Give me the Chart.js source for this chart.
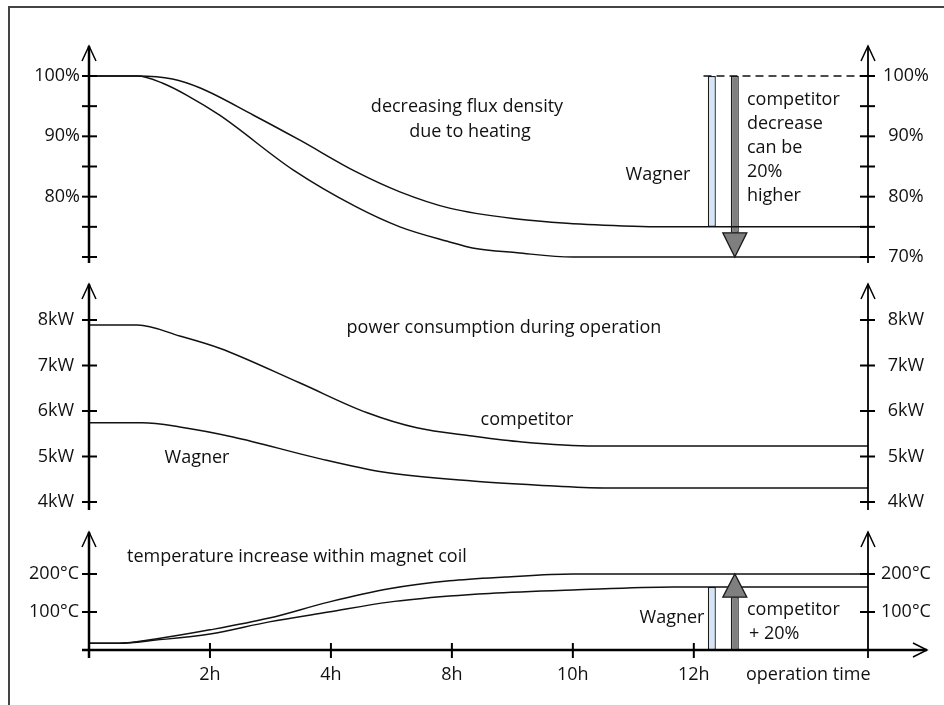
<!DOCTYPE html>
<html><head><meta charset="utf-8">
<script src="https://cdn.jsdelivr.net/npm/chart.js@4.4.1/dist/chart.umd.min.js"></script>
<style>html,body{margin:0;padding:0;background:#fff;}#wrap{width:944px;height:705px;position:relative;}</style>
</head><body><div id="wrap"><canvas id="c"></canvas></div>
<script>
// ---- time axis (axis units; labels as printed) ----
const timeTickPos = [1, 2, 3, 4, 5];
const timeTickLabels = ['2h', '4h', '8h', '10h', '12h'];
const timeAxisEnd = 6.44;

// ---- flux density (%) ----
const fluxTicks = [100, 95, 90, 85, 80, 75, 70];
const fluxLeftLabels = [100, 90, 80];
const fluxRightLabels = [100, 90, 80, 70];
const fluxWagnerT = [0, 0.40, 0.69, 0.92, 1.36, 1.74, 2.21, 2.57, 2.98, 3.54, 3.95, 4.50, 4.72, 6.44];
const fluxWagner  = [100, 100, 99.5, 98.0, 93.5, 89.4, 84.1, 80.8, 78.1, 76.3, 75.6, 75.1, 75.0, 75.0];
const fluxCompT   = [0, 0.40, 0.61, 0.81, 1.08, 1.69, 2.21, 2.57, 2.98, 3.17, 3.54, 4.0, 6.44];
const fluxComp    = [100, 100, 98.8, 96.8, 93.5, 84.4, 78.3, 75.0, 72.5, 71.5, 70.7, 70.0, 70.0];
const fluxRefT = [5.08, 6.44];
const fluxRef  = [100, 100];
const fluxWagnerBar = {t: 5.149, range: [75, 100]};
const fluxCompArrow = {t: 5.339, shaft: [74, 100], tip: 70};

// ---- power consumption (kW) ----
const powerTicks = [8, 7, 6, 5, 4];
const powerCompT  = [0, 0.40, 0.75, 1.08, 1.74, 2.30, 2.71, 3.17, 3.58, 4.18, 6.44];
const powerComp   = [7.89, 7.89, 7.65, 7.38, 6.62, 5.96, 5.63, 5.45, 5.32, 5.23, 5.23];
const powerWagnerT = [0, 0.44, 0.75, 1.19, 1.88, 2.43, 3.17, 3.72, 4.26, 6.44];
const powerWagner  = [5.74, 5.74, 5.65, 5.43, 4.97, 4.66, 4.46, 4.37, 4.31, 4.31];

// ---- coil temperature (°C) ----
const tempTicks = [200, 100];
const tempCompT  = [0, 0.25, 0.55, 1.0, 1.49, 1.98, 2.48, 2.98, 3.44, 4.0, 6.44];
const tempComp   = [18, 18, 29, 53, 84, 126, 161, 182, 192, 200, 200];
const tempWagnerT = [0, 0.25, 0.55, 1.0, 1.49, 1.98, 2.48, 2.98, 3.31, 4.0, 4.83, 6.44];
const tempWagner  = [18, 18, 26, 42, 74, 100, 126, 142, 149, 158, 166, 166];
const tempWagnerBar = {t: 5.149, range: [0, 166]};
const tempCompArrow = {t: 5.339, shaft: [0, 139], tip: 200};

// ---- layout (pixels) ----
const W = 944, H = 705;
const FONT = '18px "Open Sans"';
const TXT = '#111';
function fit(v0, p0, v1, p1) {
  const k = (p1 - p0) / (v0 - v1);
  const max = v0 + p0 / k;
  return {min: max - H / k, max};
}
const fluxFit = fit(100, 76, 70, 257);
const powerFit = fit(8, 320, 4, 502);
const tempFit = fit(200, 574, 0, 650);

const pts = (xs, ys) => xs.map((x, i) => ({x, y: ys[i]}));
const lineDs = (xs, ys, axis, extra) => Object.assign({
  type: 'line', data: pts(xs, ys), yAxisID: axis, borderColor: '#111', borderWidth: 1.5,
  pointRadius: 0, fill: false, cubicInterpolationMode: 'monotone'
}, extra || {});
const barDs = (bar, axis, fillColor) => ({
  type: 'bar', data: [{x: bar.t, y: bar.range || bar.shaft}], yAxisID: axis,
  backgroundColor: fillColor, borderColor: '#1a1a1a', borderWidth: 1.3, borderSkipped: false,
  grouped: false, maxBarThickness: 8
});

const panels = [
  {axis: 'y1', top: 46, bottom: 263, ticks: fluxTicks, left: fluxLeftLabels, right: fluxRightLabels, unit: '%', lx: 80},
  {axis: 'y2', top: 284, bottom: 510, ticks: powerTicks, left: powerTicks, right: powerTicks, unit: 'kW', lx: 74},
  {axis: 'y3', top: 532, bottom: 658, ticks: tempTicks, left: tempTicks, right: tempTicks, unit: '°C', lx: 79}
];
const notes = [
  ['decreasing flux density', 467, 107, 'center'],
  ['due to heating', 470, 132, 'center'],
  ['Wagner', 658, 175, 'center'],
  ['competitor', 747, 100, 'left'],
  ['decrease', 747, 124, 'left'],
  ['can be', 747, 148, 'left'],
  ['20%', 747, 172, 'left'],
  ['higher', 747, 196, 'left'],
  ['power consumption during operation', 504, 328, 'center'],
  ['competitor', 527, 420, 'center'],
  ['Wagner', 197, 458, 'center'],
  ['temperature increase within magnet coil', 127, 557, 'left'],
  ['Wagner', 672, 618, 'center'],
  ['competitor', 747, 610, 'left'],
  ['+ 20%', 749, 634, 'left'],
  ['operation time', 746, 675, 'left']
];

const drawPlugin = {
  id: 'drawAxes',
  afterDatasetsDraw(chart) {
    const ctx = chart.ctx;
    const xs = chart.scales.x;
    const X = v => xs.getPixelForValue(v);
    const xl = X(0), xr = X(timeAxisEnd);
    ctx.save();
    // frame
    ctx.strokeStyle = '#444'; ctx.lineWidth = 2;
    ctx.beginPath(); ctx.moveTo(9, H); ctx.lineTo(9, 7); ctx.lineTo(W, 7); ctx.stroke();

    // arrow heads of competitor
    const heads = [[fluxCompArrow, 'y1'], [tempCompArrow, 'y3']];
    heads.forEach(([a, ax]) => {
      const s = chart.scales[ax];
      const cx = X(a.t);
      const tipY = s.getPixelForValue(a.tip);
      const baseY = s.getPixelForValue(a.tip > a.shaft[0] ? a.shaft[1] : a.shaft[0]);
      ctx.beginPath();
      ctx.moveTo(cx - 12, baseY); ctx.lineTo(cx + 12, baseY); ctx.lineTo(cx, tipY); ctx.closePath();
      ctx.fillStyle = '#7f7f7f'; ctx.fill();
      ctx.strokeStyle = '#1a1a1a'; ctx.lineWidth = 1.3; ctx.stroke();
    });

    ctx.strokeStyle = '#000';
    ctx.fillStyle = TXT;
    ctx.font = FONT;
    ctx.textBaseline = 'middle';
    const chevronUp = (x, y) => {
      ctx.lineWidth = 1.5;
      ctx.beginPath(); ctx.moveTo(x - 7, y + 15); ctx.lineTo(x, y); ctx.lineTo(x + 7, y + 15); ctx.stroke();
    };
    panels.forEach(p => {
      const s = chart.scales[p.axis];
      ctx.lineWidth = 2.5;
      ctx.beginPath(); ctx.moveTo(xl, p.top); ctx.lineTo(xl, p.bottom); ctx.stroke();
      chevronUp(xl, p.top);
      ctx.lineWidth = 1.8;
      ctx.beginPath(); ctx.moveTo(xr, p.top); ctx.lineTo(xr, p.bottom); ctx.stroke();
      chevronUp(xr, p.top);
      p.ticks.forEach(v => {
        const y = s.getPixelForValue(v);
        ctx.lineWidth = 2;
        ctx.beginPath(); ctx.moveTo(xl - 7, y); ctx.lineTo(xl + 8, y); ctx.stroke();
        ctx.beginPath(); ctx.moveTo(xr - 8, y); ctx.lineTo(xr + 7, y); ctx.stroke();
      });
      ctx.textAlign = 'right';
      p.left.forEach(v => ctx.fillText(v + p.unit, p.lx, s.getPixelForValue(v)));
      ctx.textAlign = 'center';
      p.right.forEach(v => ctx.fillText(v + p.unit, 906, s.getPixelForValue(v)));
    });

    // time axis
    const ty = chart.scales.y3.getPixelForValue(0);
    ctx.lineWidth = 2.5;
    ctx.beginPath(); ctx.moveTo(xl - 7, ty); ctx.lineTo(927, ty); ctx.stroke();
    ctx.lineWidth = 1.5;
    ctx.beginPath(); ctx.moveTo(913, ty - 7); ctx.lineTo(927, ty); ctx.lineTo(913, ty + 7); ctx.stroke();
    ctx.lineWidth = 2;
    timeTickPos.forEach((v, i) => {
      const x = X(v);
      ctx.beginPath(); ctx.moveTo(x, ty - 7); ctx.lineTo(x, ty + 8); ctx.stroke();
      ctx.textAlign = 'center';
      ctx.fillText(timeTickLabels[i], x, 675);
    });

    notes.forEach(([t, x, y, a]) => { ctx.textAlign = a; ctx.fillText(t, x, y); });
    ctx.restore();
  }
};

const yScale = f => ({type: 'linear', display: false, min: f.min, max: f.max, beginAtZero: false, bounds: 'data'});

new Chart(document.getElementById('c'), {
  type: 'line',
  data: {
    datasets: [
      lineDs(fluxWagnerT, fluxWagner, 'y1'),
      lineDs(fluxCompT, fluxComp, 'y1'),
      lineDs(fluxRefT, fluxRef, 'y1', {borderDash: [8, 5], cubicInterpolationMode: 'default', tension: 0}),
      lineDs(powerCompT, powerComp, 'y2'),
      lineDs(powerWagnerT, powerWagner, 'y2'),
      lineDs(tempCompT, tempComp, 'y3'),
      lineDs(tempWagnerT, tempWagner, 'y3'),
      barDs(fluxWagnerBar, 'y1', '#d6e4f8'),
      barDs(fluxCompArrow, 'y1', '#7f7f7f'),
      barDs(tempWagnerBar, 'y3', '#d6e4f8'),
      barDs(tempCompArrow, 'y3', '#7f7f7f')
    ]
  },
  options: {
    responsive: true, maintainAspectRatio: false, animation: false,
    layout: {padding: {left: 89, right: W - 868, top: 0, bottom: 0}},
    plugins: {legend: {display: false}, tooltip: {enabled: false}},
    events: [],
    scales: {
      x: {type: 'linear', display: false, min: 0, max: timeAxisEnd, offset: false, bounds: 'data'},
      y1: yScale(fluxFit),
      y2: yScale(powerFit),
      y3: yScale(tempFit)
    }
  },
  plugins: [drawPlugin]
});
</script></body></html>
